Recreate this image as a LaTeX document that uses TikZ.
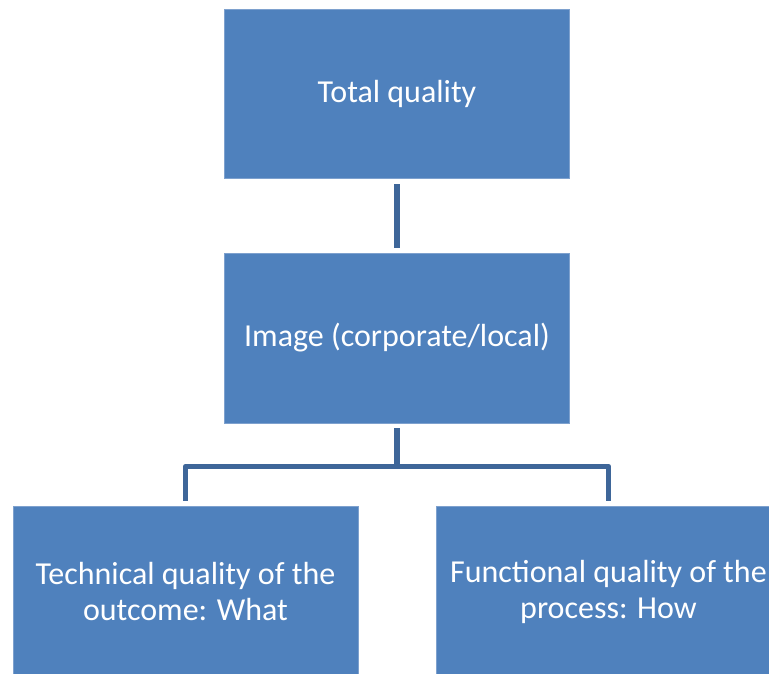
\documentclass[tikz,border=0pt]{standalone}
\usepackage{fontspec}
\setmainfont{Carlito}
\definecolor{boxfill}{HTML}{4F81BD}
\definecolor{boxedge}{HTML}{7EA1CE}
\definecolor{linkcol}{HTML}{3E6699}
\begin{document}
\begin{tikzpicture}[x=1pt,y=1pt,
  qbox/.style={rectangle, fill=boxfill, draw=boxedge, line width=0.8pt,
    minimum width=345pt, text=white, align=center, inner sep=0pt,
    font=\fontsize{32}{36}\selectfont},
  conn/.style={draw=linkcol, line width=5.5pt, line join=round}]
\useasboundingbox (0,0) rectangle (769,673);
\clip (0,0) rectangle (769,673);

% boxes of the hierarchy
\node[qbox, minimum height=169pt] (top) at (397,579.5) {Total quality};
\node[qbox, minimum height=170pt] (mid) at (397,335) {Image (corporate/local)};
\node[qbox, minimum height=172pt] (left) at (185.5,81) {Technical quality of the\\outcome: What};
\node[qbox, minimum height=172pt] (right) at (608.5,81) {Functional quality of the\\process: How};

% connectors
\draw[conn, shorten <=6pt, shorten >=5pt] (top.south) -- (mid.north);
\draw[conn, shorten <=5pt, shorten >=5pt] (mid.south) -- ++(0,-43) -| (left.north);
\draw[conn, shorten <=5pt, shorten >=5pt] (mid.south) -- ++(0,-43) -| (right.north);
\end{tikzpicture}
\end{document}
